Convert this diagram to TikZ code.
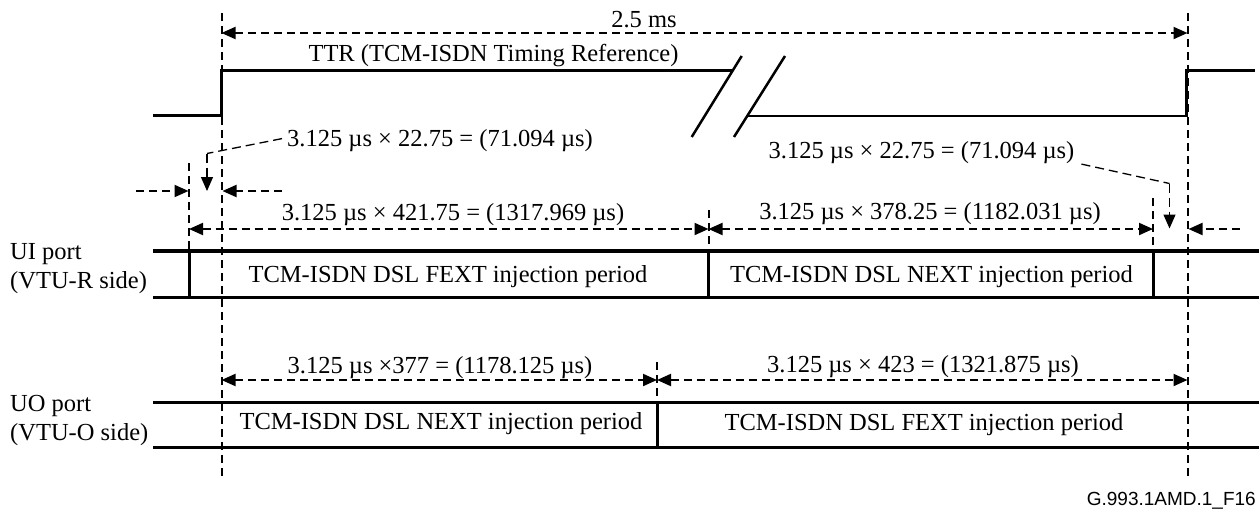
\documentclass[tikz,border=0pt]{standalone}
\usepackage{fontspec}
\setmainfont{Liberation Serif}
\newfontfamily\figlabelfont{Liberation Sans}
\usetikzlibrary{arrows.meta}
\begin{document}
\begin{tikzpicture}[x=1pt,y=-1pt,
  tip/.tip={Triangle[length=14pt,width=12pt]},
  dim/.style={line width=2pt, dash pattern=on 8pt off 5pt},
  dimarrow/.style={dim, tip-tip},
  onearrow/.style={dim, -tip},
  leader/.style={line width=1.3pt, dash pattern=on 9pt off 5pt},
  signal/.style={line width=2.3pt, line join=miter},
  slash/.style={line width=2.5pt},
  box/.style={line width=3.4pt},
  divider/.style={line width=3pt},
  txt/.style={font=\fontsize{24.5}{28.5}\selectfont, inner sep=0pt, anchor=base},
  side/.style={font=\fontsize{24.5}{28.5}\selectfont, inner sep=0pt, anchor=base west, align=left},
]
\useasboundingbox (0,0) rectangle (1259,512);

% ---------- reference positions ----------
\coordinate (v1t) at (221.5,13);   \coordinate (v1b) at (221.5,477);
\coordinate (v2t) at (1187.5,13);  \coordinate (v2b) at (1187.5,477);
\coordinate (v3t) at (189,163);    \coordinate (v3m) at (189,251);   \coordinate (v3b) at (189,297.3);
\coordinate (v4t) at (708.5,210);  \coordinate (v4m) at (708.5,251); \coordinate (v4b) at (708.5,297.3);
\coordinate (v5t) at (1153,198);   \coordinate (v5m) at (1153,251);  \coordinate (v5b) at (1153,297.3);
\coordinate (v6t) at (657,362);    \coordinate (v6m) at (657,402.3); \coordinate (v6b) at (657,447.3);

% ---------- main dashed verticals ----------
\draw[dim] (v1t) -- (v1b);
\draw[dim] (v2t) -- (v2b);
\draw[dim] (v3t) -- (v3m);
\draw[dim] (v4t) -- (v4m);
\draw[dim] (v5t) -- (v5m);
\draw[dim] (v6t) -- (v6m);

% ---------- 2.5 ms ----------
\coordinate (a25l) at (221.5,33); \coordinate (a25r) at (1187.5,33);
\draw[dimarrow] (a25l) -- (a25r);
\node[txt] (t25) at (644,27) {2.5 ms};

% ---------- TTR signal ----------
\node[txt] (ttr) at (493.5,61.7) {TTR (TCM-ISDN Timing Reference)};
\coordinate (s0) at (153,115.5);
\coordinate (s1) at (221.5,115.5);
\coordinate (s2) at (221.5,70.5);
\coordinate (s3) at (732.5,70.5);
\draw[signal] (s0) -- (s1) -- (s2) -- (s3);
\coordinate (s4) at (747.5,116);
\coordinate (s5) at (1186.5,116);
\coordinate (s6) at (1186.5,70.5);
\coordinate (s7) at (1255,70.5);
\draw[signal] (s4) -- (s5) -- (s6) -- (s7);
\coordinate (k1a) at (691.7,137); \coordinate (k1b) at (741.7,56);
\coordinate (k2a) at (734,137);   \coordinate (k2b) at (785,56);
\draw[slash] (k1a) -- (k1b);
\draw[slash] (k2a) -- (k2b);

% ---------- left 22.75 offset ----------
\node[txt] (l2275) at (440,146.5) {3.125 µs × 22.75 = (71.094 µs)};
\coordinate (lc) at (207,153.5);
\coordinate (ltip) at (207,191);
\draw[leader] ([xshift=-5pt,yshift=2pt]l2275.west) -- (lc);
\draw[leader,-tip] (lc) -- (ltip);
\coordinate (la0) at (136,191);   \coordinate (la1) at (188.5,191);
\coordinate (lb0) at (282,191);   \coordinate (lb1) at (222.5,191);
\draw[onearrow] (la0) -- (la1);
\draw[onearrow] (lb0) -- (lb1);

% ---------- right 22.75 offset ----------
\node[txt] (r2275) at (921.5,158) {3.125 µs × 22.75 = (71.094 µs)};
\coordinate (rc) at (1169.5,183.5);
\coordinate (rtip) at (1169.5,228.5);
\draw[leader] ([xshift=7pt,yshift=-12pt]r2275.east) -- (rc);
\draw[leader,-tip] (rc) -- (rtip);
\coordinate (ra0) at (1240,229);  \coordinate (ra1) at (1188.5,229);
\draw[onearrow] (ra0) -- (ra1);

% ---------- UI port row ----------
\coordinate (d1l) at (189,229);   \coordinate (d1r) at (708.5,229);
\coordinate (d2r) at (1153,229);
\draw[dimarrow] (d1l) -- (d1r);
\draw[dimarrow] (d1r) -- (d2r);
\node[txt] (d421) at (453,220) {3.125 µs × 421.75 = (1317.969 µs)};
\node[txt] (d378) at (930,219.5) {3.125 µs × 378.25 = (1182.031 µs)};

\coordinate (uil) at (153,251);   \coordinate (uir) at (1259,251);
\coordinate (uibl) at (153,297.3);\coordinate (uibr) at (1259,297.3);
\draw[box] (uil) -- (uir);
\draw[box] (uibl) -- (uibr);
\draw[divider] (v3m) -- (v3b);
\draw[divider] (v4m) -- (v4b);
\draw[divider] (v5m) -- (v5b);
\node[txt] (fextui) at (448,282) {TCM-ISDN DSL FEXT injection period};
\node[txt] (nextui) at (931.5,282) {TCM-ISDN DSL NEXT injection period};
\node[side] (uilab) at (10,288.3) {UI port\\(VTU-R side)};

% ---------- UO port row ----------
\coordinate (d3l) at (221.5,380); \coordinate (d3m) at (657,380);
\coordinate (d3r) at (1187.5,380);
\draw[dimarrow] (d3l) -- (d3m);
\draw[dimarrow] (d3m) -- (d3r);
\node[txt] (d377) at (440,373) {3.125 µs ×377 = (1178.125 µs)};
\node[txt] (d423) at (923,372) {3.125 µs × 423 = (1321.875 µs)};

\coordinate (uol) at (153,402.3);  \coordinate (uor) at (1259,402.3);
\coordinate (uobl) at (153,447.3); \coordinate (uobr) at (1259,447.3);
\draw[box] (uol) -- (uor);
\draw[box] (uobl) -- (uobr);
\draw[divider] (v6m) -- (v6b);
\node[txt] (nextuo) at (441,429.5) {TCM-ISDN DSL NEXT injection period};
\node[txt] (fextuo) at (924,430) {TCM-ISDN DSL FEXT injection period};
\node[side] (uolab) at (10,440) {UO port\\(VTU-O side)};

% ---------- figure label ----------
\node[inner sep=0pt, anchor=base east, font=\figlabelfont\fontsize{19}{22}\selectfont] (figlab) at (1256,505) {G.993.1AMD.1\_F16};
\end{tikzpicture}
\end{document}
